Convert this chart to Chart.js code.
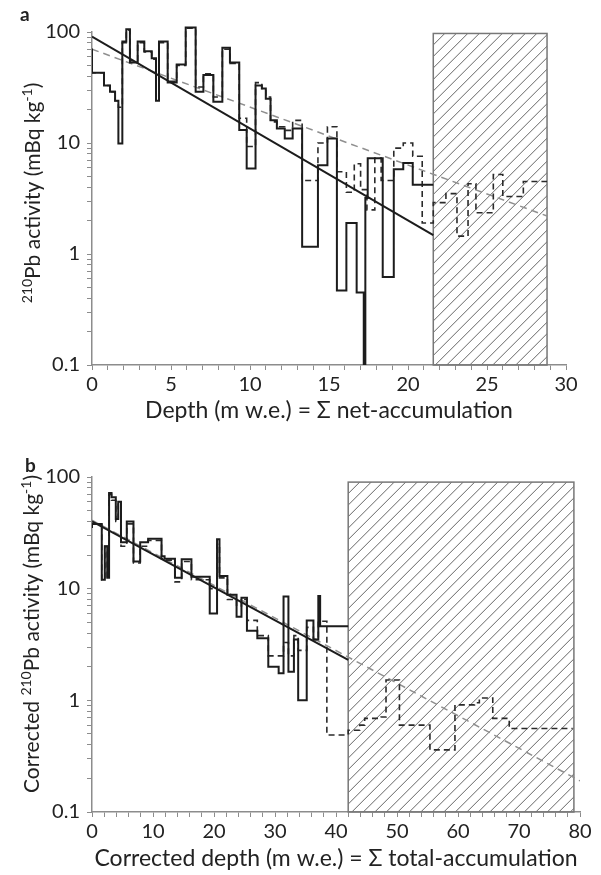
<!DOCTYPE html>
<html>
<head>
<meta charset="utf-8">
<script src="https://cdn.jsdelivr.net/npm/chart.js@4.4.1/dist/chart.umd.min.js"></script>
<style>
  html, body { margin: 0; padding: 0; background: #fff; }
  canvas { position: absolute; left: 0; }
  #chartA { top: 0; }
  #chartB { top: 440px; }
</style>
</head>
<body>
<canvas id="chartA" width="601" height="435"></canvas>
<canvas id="chartB" width="601" height="435"></canvas>
<script>
// ---- panel a : depth (m w.e.) where each sample starts; last entry closes the profile
const depthA  = [0, 0.76, 1.14, 1.46, 1.67, 1.92, 2.17, 2.4, 2.89, 3.31, 3.78, 4.05, 4.24, 4.79, 5.36, 5.93, 6.56, 7.05, 7.68, 8.25, 8.73, 9.32, 9.79, 10.35, 10.75, 11.0, 11.3, 11.7, 12.2, 12.7, 13.3, 14.3, 14.9, 15.5, 16.1, 16.75, 17.2, 17.3, 17.45, 18.4, 19.1, 19.7, 20.3, 20.9, 21.6];
const solidA  = [71, 43, 33, 29, 24, 9.9, 82, 106, 53, 82, 67, 58, 24, 82, 35, 51, 110, 29, 41, 23.5, 72, 53, 13.1, 5.9, 33, 31, 25, 16, 13.5, 11, 13.5, 1.16, 6.3, 11, 0.47, 1.9, 0.45, 0.08, 3.2, 7.3, 0.62, 5.8, 6.6, 4.2, 4.2];
const depthDashA = [0, 0.76, 1.14, 1.46, 1.67, 1.92, 2.17, 2.4, 2.89, 3.31, 3.78, 4.05, 4.24, 4.79, 5.36, 5.93, 6.56, 7.05, 7.68, 8.25, 8.73, 9.32, 9.79, 10.35, 10.75, 11.0, 11.3, 11.7, 12.2, 12.7, 13.3, 14.3, 14.9, 15.5, 16.1, 16.6, 17.0, 17.4, 17.9, 18.3, 19.1, 19.7, 20.3, 20.9, 21.6, 22.4, 23.1, 23.8, 24.3, 25.4, 26.0, 27.3, 28.0, 28.8];
const dashedA = [68, 43, 33, 29, 24, 21, 80, 104, 55, 80, 66, 57, 28, 80, 36, 50, 108, 32, 42, 26, 70, 52, 16.7, 9.3, 35, 31, 26, 15.5, 14, 13, 16, 4.6, 10, 14, 5.5, 3.6, 6.5, 3.8, 2.5, 7.3, 4.6, 9.0, 10, 7.6, 1.9, 2.9, 3.5, 1.45, 4.3, 2.35, 5.2, 3.3, 4.5, 4.5];
const fitDepthA = [0, 21.6];
const fitSolidA = [91, 1.48];
const fitDashDepthA = [0, 28.8];
const fitDashA = [70, 2.2];
const hatchA = [21.6, 28.8, 97];          // from, to, top
const xLabelsA = [0, 5, 10, 15, 20, 25, 30];

// ---- panel b
const depthB  = [0, 1.6, 2.1, 2.5, 2.8, 3.2, 3.9, 4.3, 4.75, 5.7, 6.8, 7.9, 9.2, 11.4, 11.9, 13.6, 14.7, 16.3, 19.3, 20.5, 20.9, 22.2, 23.7, 24.5, 25.4, 27.1, 28.9, 30.6, 31.4, 32.2, 33.1, 33.8, 35.2, 36.3, 37.1, 37.4, 38.5, 42];
const solidB  = [35, 38, 12, 24, 12.5, 72, 66, 42, 60, 26, 40, 17.5, 26, 28, 19.5, 18.5, 12.5, 18.3, 12.8, 6.0, 27.7, 13, 8.8, 5.6, 8.3, 4.2, 3.6, 2.0, 1.75, 8.5, 1.8, 3.5, 1.0, 5.2, 3.5, 8.6, 4.6, 4.6];
const depthDashB = [0, 1.6, 2.1, 2.5, 2.8, 3.2, 3.9, 4.3, 4.75, 5.7, 6.8, 7.9, 9.2, 11.4, 11.9, 13.6, 14.7, 16.3, 19.3, 20.5, 20.9, 22.2, 23.7, 24.5, 25.4, 27.1, 28.9, 30.6, 31.4, 32.2, 33.1, 33.8, 35.2, 36.3, 37.1, 37.4, 38.5, 42, 43.9, 44.7, 47.4, 48.2, 50.4, 55.4, 59.5, 62.7, 63.5, 65.7, 68.4, 73.3, 78.8];
const dashedB = [38, 38, 12, 24, 12.5, 70, 62, 40, 58, 24, 38, 17, 24, 27, 18.5, 18, 11.5, 17.5, 12, 10, 25, 12.5, 8, 7, 8, 5.2, 3.8, 2.5, 2.5, 3.3, 2.5, 3.8, 2.8, 4.5, 3.5, 5.0, 5.1, 0.49, 0.54, 0.60, 0.69, 0.71, 1.52, 0.60, 0.36, 0.91, 0.95, 1.05, 0.69, 0.56, 0.56];
const fitDepthB = [0, 42];
const fitSolidB = [40, 2.3];
const fitDashDepthB = [0, 80];
const fitDashB = [41, 0.19];
const hatchB = [42, 79, 90];
const xLabelsB = [0, 10, 20, 30, 40, 50, 60, 70, 80];

// shared log axis
const decades = [0.1, 1, 10];
const yLabels = [0.1, 1, 10, 100];

const TXT = '#222';
const AXIS = '#8c8c8c';
const FONT = 'Lato';

const pts = (xs, ys) => xs.map((x, i) => ({ x: x, y: ys[i] }));

// hatched box drawn behind the profiles
const hatchPlugin = {
    id: 'hatch',
    beforeDatasetsDraw(chart, args, opts) {
        const { ctx, scales: { x, y } } = chart;
        const left = x.getPixelForValue(opts.box[0]);
        const right = x.getPixelForValue(opts.box[1]);
        const top = y.getPixelForValue(opts.box[2]);
        const bottom = y.getPixelForValue(y.min);
        const h = bottom - top;
        ctx.save();
        ctx.beginPath();
        ctx.rect(left, top, right - left, h);
        ctx.clip();
        ctx.strokeStyle = '#666';
        ctx.lineWidth = 1;
        ctx.beginPath();
        for (let s = left - h; s < right; s += 11.5) {
            ctx.moveTo(s, bottom);
            ctx.lineTo(s + h, top);
        }
        ctx.stroke();
        ctx.restore();
        ctx.save();
        ctx.strokeStyle = '#777';
        ctx.lineWidth = 1.5;
        ctx.strokeRect(left, top, right - left, h);
        ctx.restore();
    }
};

// rotated y title with superscripts + panel letter
const sideTitlePlugin = {
    id: 'sideTitle',
    afterDraw(chart, args, opts) {
        const { ctx } = chart;
        ctx.save();
        ctx.fillStyle = TXT;
        ctx.font = 'bold 19px ' + FONT;
        ctx.textBaseline = 'alphabetic';
        ctx.fillText(opts.letter[0], opts.letter[1], opts.letter[2]);

        const big = '21px ' + FONT, small = '14px ' + FONT;
        let total = 0;
        const widths = opts.parts.map(p => {
            ctx.font = p[1] ? small : big;
            const w = ctx.measureText(p[0]).width;
            total += w;
            return w;
        });
        ctx.translate(opts.x, opts.centerY);
        ctx.rotate(-Math.PI / 2);
        let pos = -total / 2;
        opts.parts.forEach((p, i) => {
            ctx.font = p[1] ? small : big;
            ctx.fillText(p[0], pos, p[1] ? -8 : 0);
            pos += widths[i];
        });
        ctx.restore();
    }
};

function makeChart(id, cfg) {
    const clip = { left: 0, top: 10, right: 0, bottom: 0 };
    return new Chart(document.getElementById(id), {
        type: 'line',
        data: {
            datasets: [
                { data: cfg.solid, stepped: 'after', borderColor: '#1c1c1c', borderWidth: 2, clip: clip },
                { data: cfg.fit, borderColor: '#1c1c1c', borderWidth: 2 },
                { data: cfg.dashed, stepped: 'after', borderColor: '#2a2a2a', borderWidth: 1.6, borderDash: [6, 4], clip: clip },
                { data: cfg.fitDash, borderColor: '#8f8f8f', borderWidth: 1.5, borderDash: [7, 5] }
            ]
        },
        options: {
            responsive: false,
            animation: false,
            layout: { padding: { top: cfg.top, right: cfg.right, left: 0, bottom: 0 } },
            elements: { point: { radius: 0 }, line: { tension: 0, fill: false } },
            plugins: {
                legend: { display: false },
                tooltip: { enabled: false },
                hatch: { box: cfg.hatch },
                sideTitle: cfg.side
            },
            scales: {
                x: {
                    type: 'linear',
                    min: 0,
                    max: cfg.xMax,
                    ticks: {
                        stepSize: cfg.xStep,
                        autoSkip: false,
                        maxRotation: 0,
                        padding: 3,
                        color: TXT,
                        font: { family: FONT, size: 20 },
                        callback: v => cfg.xLabels.includes(v) ? String(v) : ''
                    },
                    grid: { drawOnChartArea: false, drawTicks: true, tickLength: 5, color: AXIS },
                    border: { color: AXIS, width: 1.5 },
                    title: {
                        display: true,
                        text: cfg.xTitle,
                        color: TXT,
                        font: { family: FONT, size: 23 },
                        padding: { top: 0, bottom: cfg.titlePad }
                    },
                    afterFit: s => { s.height = cfg.xHeight; }
                },
                y: {
                    type: 'logarithmic',
                    min: 0.1,
                    max: 100,
                    afterBuildTicks: s => {
                        const t = [];
                        decades.forEach(d => { for (let k = 1; k < 10; k++) t.push({ value: d * k }); });
                        t.push({ value: 100 });
                        s.ticks = t;
                    },
                    ticks: {
                        autoSkip: false,
                        padding: 7,
                        color: TXT,
                        font: { family: FONT, size: 20 },
                        callback: v => yLabels.includes(v) ? String(v) : ''
                    },
                    grid: { drawOnChartArea: false, drawTicks: true, tickLength: 5, color: AXIS },
                    border: { color: AXIS, width: 1.5 },
                    afterFit: s => { s.width = 92; }
                }
            }
        },
        plugins: [hatchPlugin, sideTitlePlugin]
    });
}

makeChart('chartA', {
    solid: pts(depthA, solidA),
    dashed: pts(depthDashA, dashedA),
    fit: pts(fitDepthA, fitSolidA),
    fitDash: pts(fitDashDepthA, fitDashA),
    hatch: hatchA,
    xMax: 30, xStep: 1, xLabels: xLabelsA,
    xTitle: 'Depth (m w.e.) = Σ net-accumulation',
    top: 32, right: 35, xHeight: 70, titlePad: 11,
    side: {
        letter: ['a', 20, 21],
        x: 40, centerY: 193,
        parts: [['210', true], ['Pb activity (mBq kg', false], ['-1', true], [')', false]]
    }
});

makeChart('chartB', {
    solid: pts(depthB, solidB),
    dashed: pts(depthDashB, dashedB),
    fit: pts(fitDepthB, fitSolidB),
    fitDash: pts(fitDashDepthB, fitDashB),
    hatch: hatchB,
    xMax: 80, xStep: 2, xLabels: xLabelsB,
    xTitle: 'Corrected depth (m w.e.) = Σ total-accumulation',
    top: 37, right: 21, xHeight: 63, titlePad: 3,
    side: {
        letter: ['b', 25, 32],
        x: 39, centerY: 194,
        parts: [['Corrected ', false], ['210', true], ['Pb activity (mBq kg', false], ['-1', true], [')', false]]
    }
});
</script>
</body>
</html>
